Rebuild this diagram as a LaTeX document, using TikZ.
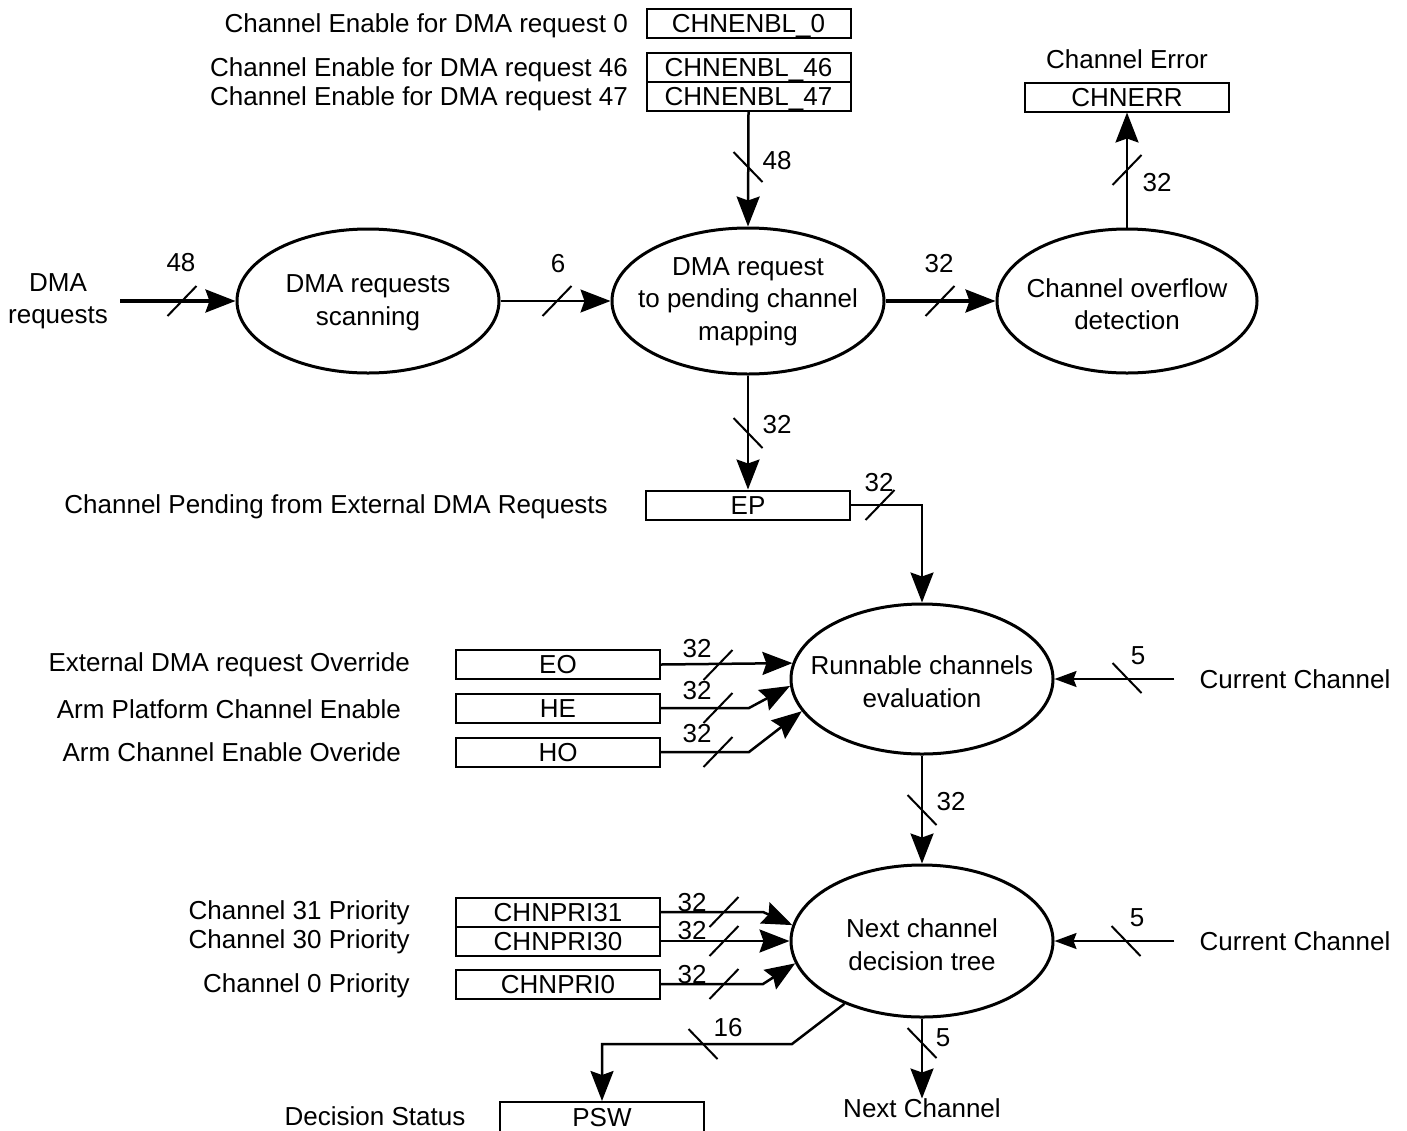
\documentclass[tikz,border=0pt]{standalone}
\usepackage{fontspec}
\setmainfont{Liberation Sans}
\usetikzlibrary{shapes.geometric,arrows.meta}
\begin{document}
\begin{tikzpicture}[x=1pt,y=-1pt,
  every node/.style={font=\fontsize{26}{32.5}\selectfont},
  txt/.style={inner sep=0pt, text height=18.6pt, text depth=0pt},
  proc/.style={ellipse, draw, line width=3pt, minimum width=262pt, minimum height=144pt, inner sep=0pt},
  reg/.style={draw, line width=2pt, minimum width=204pt, minimum height=29pt, inner sep=0pt, text height=18.6pt, text depth=0pt},
  bigtip/.style={-{Stealth[length=30pt,width=23pt,inset=4pt]}},
  bus/.style={line width=2.5pt, bigtip},
  busthick/.style={line width=3.2pt, bigtip},
  busthin/.style={line width=1.8pt, bigtip},
  cctip/.style={line width=2pt, -{Stealth[length=22pt,width=16pt,inset=3pt]}},
  num/.style={txt},
  fslash/.pic={\draw[line width=2pt] (-14.5,15) -- (14.5,-15);},
  bslash/.pic={\draw[line width=2pt] (-14.5,-15) -- (14.5,15);}
]
\useasboundingbox (0,0) rectangle (1407,1130);

% ---- top registers ----
\node[reg] (c0) at (748.5,23.5) {CHNENBL\_0};
\node[reg] (c46) at (748.5,67.5) {CHNENBL\_46};
\node[reg] (c47) at (748.5,96.5) {CHNENBL\_47};
\node[txt,anchor=east] (l0) at (628,23) {Channel Enable for DMA request 0};
\node[txt,anchor=east] (l46) at (628,67) {Channel Enable for DMA request 46};
\node[txt,anchor=east] (l47) at (628,96) {Channel Enable for DMA request 47};

\node[txt] (errl) at (1127,59) {Channel Error};
\node[reg] (err) at (1127,97) {CHNERR};

% ---- processes ----
\node[align=center,inner sep=0pt] (dma) at (58,301) {DMA\\requests};
\node[proc] (scan) at (368,301) {};
\node[align=center,inner sep=0pt] at (368,302.5) {DMA requests\\scanning};
\node[proc, minimum width=272pt, minimum height=146pt] (map) at (748,301) {};
\node[align=center,inner sep=0pt] at (748,301.5) {DMA request\\to pending channel\\mapping};
\node[proc, minimum width=260pt, minimum height=144pt] (ovf) at (1127,301) {};
\node[align=center,inner sep=0pt] at (1127,304) {Channel overflow\\detection};

% ---- EP ----
\node[txt,anchor=east] (epl) at (608,504) {Channel Pending from External DMA Requests};
\node[reg] (ep) at (748,505) {EP};

% ---- runnable ----
\node[proc, minimum height=150pt] (run) at (922,679) {};
\node[align=center,inner sep=0pt] at (922,681.5) {Runnable channels\\evaluation};
\node[reg] (eo) at (558,664.5) {EO};
\node[reg] (he) at (558,708) {HE};
\node[reg] (ho) at (558,752) {HO};
\node[txt,anchor=east] (eol) at (410,662) {External DMA request Override};
\node[txt,anchor=east] (hel) at (401,709) {Arm Platform Channel Enable};
\node[txt,anchor=east] (hol) at (401,752) {Arm Channel Enable Overide};
\node[txt] (cc1) at (1295,679) {Current Channel};

% ---- decision ----
\node[proc, minimum height=152pt] (dec) at (922,941) {};
\node[align=center,inner sep=0pt] at (922,944.5) {Next channel\\decision tree};
\node[reg] (p31) at (558,912) {CHNPRI31};
\node[reg] (p30) at (558,941) {CHNPRI30};
\node[reg] (p0) at (558,984) {CHNPRI0};
\node[txt,anchor=east] (p31l) at (410,910) {Channel 31 Priority};
\node[txt,anchor=east] (p30l) at (410,939) {Channel 30 Priority};
\node[txt,anchor=east] (p0l) at (410,983) {Channel 0 Priority};
\node[txt] (cc2) at (1295,941) {Current Channel};

\node[reg, minimum height=30pt] (psw) at (602,1117) {PSW};
\node[txt] (pswl) at (375,1116) {Decision Status};
\node[txt] (next) at (922,1108) {Next Channel};

% ---- connectors ----
\draw[busthick] ([xshift=12pt]dma.east) -- (scan.west);
\draw[busthin] (scan.east) -- (map.west);
\draw[busthick] (map.east) -- (ovf.west);
\draw[bus] (ovf.north) -- (err.south);
\draw[bus] (c47.south) -- (map.north);
\draw[bus] (map.south) -- (ep.north);
\draw[bus] (ep.east) -| (run.north);

\draw[bus] (eo.east) -- (run.173);
\draw[bus] (he.east) -- ++(88,0) -- (run.183);
\draw[bus] (ho.east) -- ++(88,0) -- (run.195);
\draw[cctip] ([xshift=-25pt]cc1.west) -- (run.east);

\draw[bus] (run.south) -- (dec.north);
\draw[bus] (p31.east) -- ++(102,0) -- (dec.173);
\draw[bus] (p30.east) -- (dec.west);
\draw[bus] (p0.east) -- ++(102,0) -- (dec.190);
\draw[cctip] ([xshift=-25pt]cc2.west) -- (dec.east);

\coordinate (k1) at (792,1044);
\draw[bus] (dec.219) -- (k1) -| (psw.north);
\draw[bus] (dec.south) -- (next.north);

% ---- bus width marks ----
\pic at (182,301) {fslash};   \node[num] at (181,262) {48};
\pic at (557,301) {fslash};   \node[num] at (558,263) {6};
\pic at (940,301) {fslash};   \node[num] at (939,263) {32};
\pic at (1127,170) {fslash};  \node[num] at (1157,182) {32};
\pic at (748,167) {bslash};   \node[num] at (777,160) {48};
\pic at (748,433) {bslash};   \node[num] at (777,424) {32};
\pic at (880,505) {fslash};   \node[num] at (879,482) {32};
\pic at (718,665) {fslash};   \node[num] at (697,648) {32};
\pic at (718,708) {fslash};   \node[num] at (697,690) {32};
\pic at (718,752) {fslash};   \node[num] at (697,733) {32};
\pic at (1127,678) {bslash};  \node[num] at (1138,655) {5};
\pic at (922,810) {bslash};   \node[num] at (951,801) {32};
\pic at (724,912) {fslash};   \node[num] at (692,902) {32};
\pic at (724,941) {fslash};   \node[num] at (692,930) {32};
\pic at (724,984) {fslash};   \node[num] at (692,974) {32};
\pic at (1126,941) {bslash};  \node[num] at (1137,917) {5};
\pic at (703,1044) {bslash};  \node[num] at (728,1027) {16};
\pic at (922,1043) {bslash};  \node[num] at (943,1037) {5};
\end{tikzpicture}
\end{document}
